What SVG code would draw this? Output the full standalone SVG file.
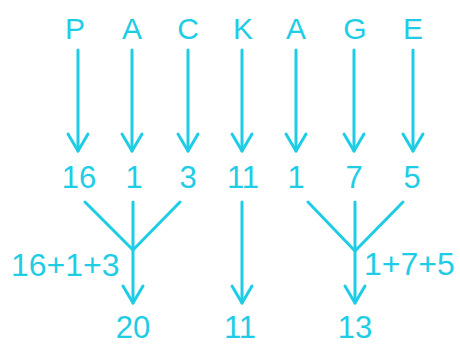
<svg xmlns="http://www.w3.org/2000/svg" width="460" height="345" viewBox="0 0 460 345">
<style>
text{font-family:"Liberation Sans",Arial,sans-serif;fill:#1ecde5;text-anchor:middle}
.l{font-size:30px}
.n{font-size:31px}
.s{font-size:32px;text-anchor:start}
.c line{stroke:#1ecde5;stroke-width:3;fill:none;stroke-linecap:round}
.ah{stroke:#1ecde5;stroke-width:3;fill:none;stroke-linecap:round;stroke-linejoin:round}
</style>
<defs>
<polyline id="ah" class="ah" points="-10,-17 0,0 10,-17" stroke="#1ecde5" stroke-width="3" fill="none"/>
</defs>
<rect width="460" height="345" fill="#ffffff"/>
<g id="letters">
<text class="l" x="75" y="39">P</text>
<text class="l" x="132" y="39">A</text>
<text class="l" x="188" y="39">C</text>
<text class="l" x="243" y="39">K</text>
<text class="l" x="296" y="39">A</text>
<text class="l" x="355" y="39">G</text>
<text class="l" x="413" y="39">E</text>
</g>
<g id="values">
<text class="n" x="79" y="188">16</text>
<text class="n" x="134" y="188">1</text>
<text class="n" x="188" y="188">3</text>
<text class="n" x="243" y="188">11</text>
<text class="n" x="296" y="188">1</text>
<text class="n" x="354" y="188">7</text>
<text class="n" x="412" y="188">5</text>
</g>
<g id="sums">
<text class="s" x="11" y="276">16+1+3</text>
<text class="s" x="364" y="275">1+7+5</text>
</g>
<g id="results">
<text class="n" x="133" y="338">20</text>
<text class="n" x="240" y="338">11</text>
<text class="n" x="355" y="338">13</text>
</g>
<g id="connectors" class="c">
<line x1="78" y1="50" x2="78" y2="151"/><use href="#ah" x="78" y="151"/>
<line x1="132" y1="50" x2="132" y2="151"/><use href="#ah" x="132" y="151"/>
<line x1="188" y1="50" x2="188" y2="151"/><use href="#ah" x="188" y="151"/>
<line x1="242" y1="50" x2="242" y2="151"/><use href="#ah" x="242" y="151"/>
<line x1="296" y1="50" x2="296" y2="151"/><use href="#ah" x="296" y="151"/>
<line x1="354" y1="50" x2="354" y2="151"/><use href="#ah" x="354" y="151"/>
<line x1="413" y1="50" x2="413" y2="151"/><use href="#ah" x="413" y="151"/>
<line x1="85" y1="202" x2="133" y2="250"/>
<line x1="180" y1="202" x2="133" y2="250"/>
<line x1="133" y1="202" x2="133" y2="303"/><use href="#ah" x="133" y="303"/>
<line x1="242" y1="202" x2="242" y2="303"/><use href="#ah" x="242" y="303"/>
<line x1="308" y1="202" x2="355" y2="251"/>
<line x1="403" y1="202" x2="355" y2="251"/>
<line x1="355" y1="202" x2="355" y2="303"/><use href="#ah" x="355" y="303"/>
</g>
</svg>
